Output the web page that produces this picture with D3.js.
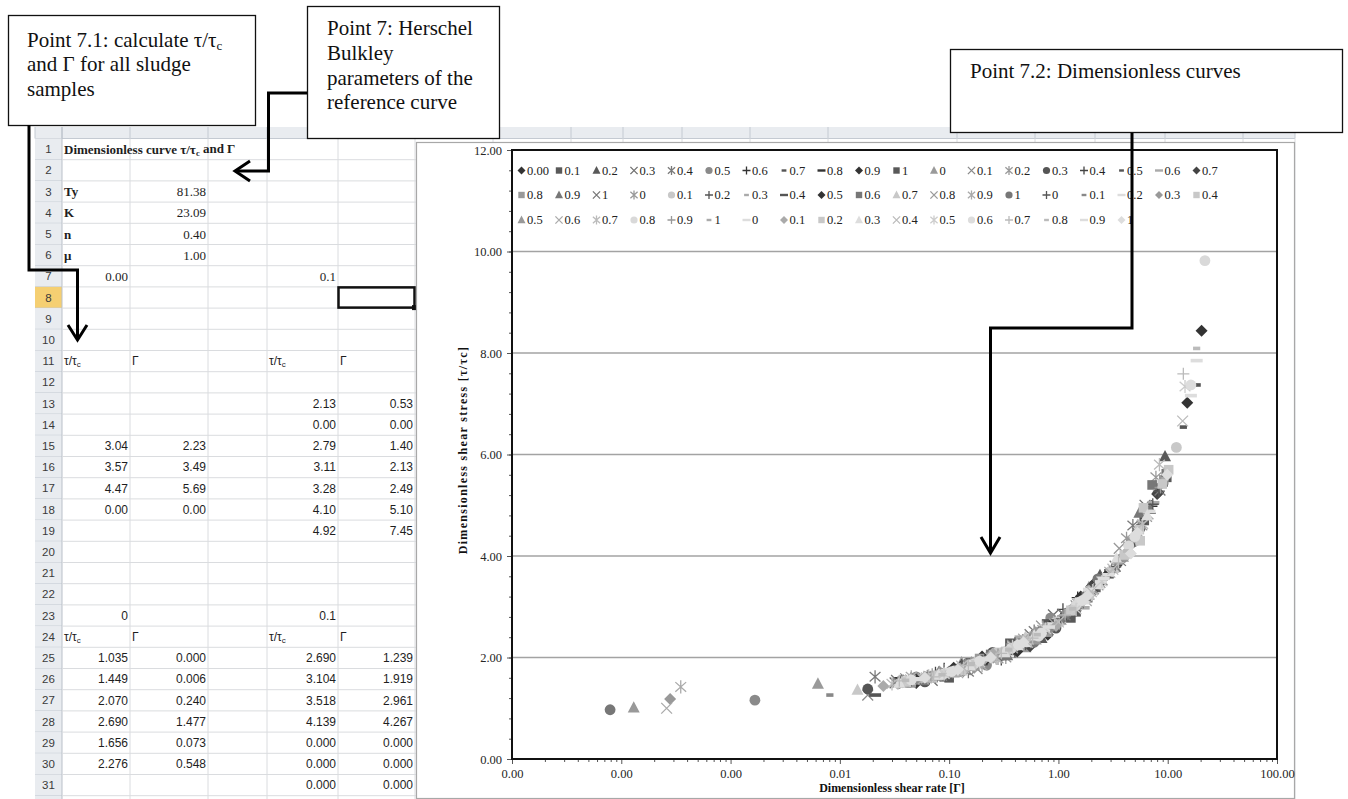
<!DOCTYPE html>
<html>
<head>
<meta charset="utf-8">
<script src="https://cdn.jsdelivr.net/npm/d3@7"></script>
<style>
  body { margin: 0; background: #fff; }
  svg { display: block; }
</style>
</head>
<body>
<svg id="sheet" width="1348" height="799"></svg>
<script>
// ---------- Worksheet contents ----------
const paramLabels = ["Ty", "K", "n", "μ"];
const paramValues = ["81.38", "23.09", "0.40", "1.00"];
// rows 13..19 : columns A, B, D, E
const blockOneRows = [
  ["", "", "2.13", "0.53"],
  ["", "", "0.00", "0.00"],
  ["3.04", "2.23", "2.79", "1.40"],
  ["3.57", "3.49", "3.11", "2.13"],
  ["4.47", "5.69", "3.28", "2.49"],
  ["0.00", "0.00", "4.10", "5.10"],
  ["", "", "4.92", "7.45"]
];
// rows 25..31 : columns A, B, D, E
const blockTwoRows = [
  ["1.035", "0.000", "2.690", "1.239"],
  ["1.449", "0.006", "3.104", "1.919"],
  ["2.070", "0.240", "3.518", "2.961"],
  ["2.690", "1.477", "4.139", "4.267"],
  ["1.656", "0.073", "0.000", "0.000"],
  ["2.276", "0.548", "0.000", "0.000"],
  ["", "", "0.000", "0.000"]
];

// ---------- Chart data: one series per sludge sample, points are [Γ, τ/τc] ----------
const seriesNames = [
  "0.00", "0.1", "0.2", "0.3", "0.4", "0.5", "0.6", "0.7", "0.8", "0.9", "1",
  "0", "0.1", "0.2", "0.3", "0.4", "0.5", "0.6", "0.7", "0.8", "0.9", "1",
  "0", "0.1", "0.2", "0.3", "0.4", "0.5", "0.6", "0.7", "0.8", "0.9", "1",
  "0", "0.1", "0.2", "0.3", "0.4", "0.5", "0.6", "0.7", "0.8", "0.9", "1",
  "0", "0.1", "0.2", "0.3", "0.4", "0.5", "0.6", "0.7", "0.8", "0.9", "1"
];
const seriesPoints = [
  [[0.06,1.60],[0.28,2.05],[1.1,2.78],[3.4,3.82],[8.2,5.25],[0.14,1.86],[0.55,2.28],[2.1,3.45]],
  [[0.05,1.55],[0.16,1.83],[0.62,2.45],[2.2,3.38],[6.1,4.70],[0.09,1.62],[0.38,2.26],[1.3,2.78]],
  [[0.09,1.66],[0.35,2.14],[1.35,2.97],[4.1,4.05],[9.45,5.96],[0.045,1.60],[0.7,2.38],[2.4,3.62]],
  [[0.032,1.50],[0.12,1.74],[0.48,2.30],[1.9,3.25],[5.3,4.45],[0.07,1.55],[0.9,2.84],[6.2,5.00]],
  [[0.021,1.62],[0.075,1.63],[0.30,2.06],[1.15,2.83],[3.7,3.90],[0.15,1.72],[0.6,2.52],[4.8,4.60]],
  [[0.00167,1.16],[0.11,1.72],[0.42,2.23],[1.6,3.10],[4.6,4.25],[0.05,1.62],[0.22,1.85],[0.85,2.78]],
  [[0.038,1.54],[0.19,1.90],[0.80,2.58],[2.7,3.58],[7.1,4.98],[0.09,1.78],[0.4,2.12],[1.5,3.18]],
  [[0.055,1.57],[0.25,2.00],[1.0,2.68],[3.1,3.72],[18.6,7.37],[0.12,1.66],[0.5,2.42],[1.9,3.12]],
  [[0.07,1.61],[0.33,2.12],[1.25,2.90],[3.9,3.97],[8.8,5.40],[0.035,1.58],[0.16,1.95],[0.62,2.36]],
  [[0.10,1.70],[0.44,2.25],[1.7,3.15],[5.0,4.35],[20.4,8.44],[0.05,1.50],[0.2,2.02],[0.8,2.45]],
  [[0.043,1.53],[0.20,1.94],[0.75,2.55],[2.9,3.65],[9.8,5.55],[0.1,1.60],[0.36,2.28],[1.45,2.90]],
  [[0.0063,1.48],[0.065,1.60],[0.26,2.02],[1.05,2.74],[3.3,3.78],[0.13,1.90],[0.5,2.20],[1.9,3.38]],
  [[0.018,1.26],[0.085,1.65],[0.37,2.17],[1.45,3.02],[4.4,4.18],[0.04,1.58],[0.18,1.78],[0.7,2.62]],
  [[0.048,1.56],[0.18,1.90],[0.68,2.50],[2.4,3.47],[6.6,4.82],[0.09,1.74],[0.33,2.00],[7.8,5.55]],
  [[0.018,1.38],[0.13,1.77],[0.52,2.33],[2.0,3.30],[5.6,4.55],[0.06,1.52],[0.25,2.10],[0.95,2.58]],
  [[0.036,1.52],[0.15,1.82],[0.58,2.42],[2.25,3.40],[6.3,4.75],[0.075,1.70],[0.3,1.96],[1.1,2.95]],
  [[0.08,1.64],[0.31,2.08],[1.2,2.87],[3.6,3.88],[13.9,6.54],[0.035,1.47],[0.15,1.90],[0.6,2.33]],
  [[0.052,1.58],[0.23,1.98],[0.90,2.65],[2.8,3.62],[7.4,5.05],[0.11,1.64],[0.45,2.40],[1.7,2.98]],
  [[0.062,1.60],[0.27,2.04],[1.1,2.80],[3.5,3.86],[8.0,5.22],[0.13,1.84],[0.55,2.22],[2.0,3.40]],
  [[0.095,1.69],[0.40,2.20],[1.55,3.08],[4.7,4.28],[9.2,5.50],[0.045,1.50],[0.19,1.98],[0.8,2.50]],
  [[0.04,1.53],[0.17,1.86],[0.66,2.48],[2.5,3.52],[6.9,4.92],[0.08,1.70],[0.34,2.04],[5.5,4.85]],
  [[0.07,1.62],[0.29,2.07],[1.1,2.85],[3.3,3.80],[8.5,5.30],[0.033,1.55],[0.14,1.76],[0.55,2.45]],
  [[0.034,1.50],[0.14,1.80],[0.55,2.38],[2.1,3.34],[5.8,4.60],[0.07,1.66],[0.28,1.98],[4.2,4.35]],
  [[0.058,1.59],[0.24,2.00],[0.95,2.70],[3.0,3.70],[12.0,6.14],[0.12,1.78],[0.5,2.35],[1.9,3.20]],
  [[0.045,1.55],[0.20,1.93],[0.78,2.56],[2.6,3.55],[7.3,5.02],[0.1,1.65],[0.4,2.28],[1.5,2.98]],
  [[0.088,1.67],[0.36,2.16],[1.4,3.00],[4.3,4.15],[9.0,5.45],[0.04,1.50],[0.17,1.95],[0.65,2.40]],
  [[0.021,1.26],[0.10,1.70],[0.40,2.22],[1.5,3.05],[4.5,4.22],[0.05,1.60],[0.2,1.88],[0.8,2.72]],
  [[0.05,1.56],[0.22,1.97],[0.85,2.63],[2.7,3.60],[15.1,7.02],[0.11,1.80],[0.42,2.12],[1.6,3.20]],
  [[0.12,1.75],[0.47,2.28],[1.8,3.20],[5.2,4.42],[9.7,5.62],[0.06,1.55],[0.24,2.06],[7.2,5.40]],
  [[0.0145,1.36],[0.06,1.60],[0.25,2.01],[1.0,2.72],[3.2,3.76],[0.13,1.74],[0.5,2.40],[1.9,3.30]],
  [[0.042,1.55],[0.18,1.88],[0.72,2.53],[2.3,3.43],[6.4,4.78],[0.09,1.70],[0.38,2.24],[3.6,4.15]],
  [[0.00035,1.42],[0.09,1.67],[0.38,2.18],[1.5,3.06],[4.8,4.30],[0.045,1.62],[0.2,1.84],[0.72,2.60]],
  [[0.000079,0.97],[0.075,1.63],[0.30,2.07],[1.2,2.88],[3.8,3.95],[0.15,1.88],[0.6,2.30],[2.3,3.55]],
  [[0.065,1.61],[0.27,2.05],[1.05,2.76],[3.3,3.79],[8.3,5.28],[0.035,1.52],[0.13,1.85],[0.5,2.26]],
  [[0.0081,1.26],[0.11,1.73],[0.45,2.27],[1.75,3.17],[5.4,4.50],[0.05,1.50],[0.22,2.00],[0.85,2.55]],
  [[0.047,1.57],[0.19,1.92],[0.74,2.54],[2.45,3.49],[6.8,4.88],[0.1,1.76],[0.42,2.18],[1.6,3.15]],
  [[0.00028,1.18],[0.085,1.66],[0.34,2.13],[1.3,2.94],[4.0,4.00],[0.04,1.55],[0.17,1.80],[0.62,2.50]],
  [[0.13,1.78],[0.50,2.32],[1.9,3.24],[5.5,4.52],[10.2,5.70],[0.07,1.60],[0.28,2.10],[6.0,4.95]],
  [[0.00013,1.01],[0.078,1.64],[0.32,2.10],[1.25,2.91],[3.9,3.98],[0.04,1.50],[0.16,1.90],[0.62,2.35]],
  [[0.00026,1.00],[0.058,1.58],[0.24,1.99],[0.92,2.66],[2.95,3.68],[0.12,1.70],[0.48,2.36],[1.8,3.12]],
  [[0.03,1.48],[0.135,1.79],[0.53,2.35],[2.05,3.32],[5.9,4.63],[0.065,1.64],[0.27,1.98],[8.4,5.80]],
  [[0.09,1.68],[0.37,2.18],[1.45,3.03],[4.4,4.20],[21.9,9.82],[0.04,1.54],[0.17,1.88],[0.66,2.42]],
  [[0.068,1.62],[0.28,2.06],[1.1,2.82],[3.45,3.84],[8.6,5.35],[0.035,1.50],[0.14,1.86],[0.56,2.30]],
  [[0.10,1.71],[0.41,2.22],[1.6,3.10],[4.9,4.33],[9.4,5.52],[0.05,1.58],[0.2,1.90],[0.78,2.62]],
  [[0.055,1.58],[0.23,1.98],[0.90,2.66],[2.85,3.63],[16.3,7.16],[0.12,1.80],[0.5,2.24],[1.9,3.34]],
  [[0.025,1.44],[0.115,1.73],[0.46,2.28],[1.8,3.20],[5.2,4.40],[0.06,1.62],[0.25,2.08],[0.95,2.62]],
  [[0.08,1.65],[0.33,2.12],[1.3,2.93],[4.0,4.02],[8.9,5.42],[0.04,1.52],[0.16,1.86],[5.6,4.30]],
  [[0.035,1.50],[0.155,1.84],[0.60,2.43],[2.35,3.44],[6.5,4.80],[0.08,1.66],[0.32,2.10],[3.4,3.95]],
  [[0.062,1.60],[0.26,2.03],[1.0,2.70],[3.15,3.74],[13.7,6.66],[0.13,1.83],[0.52,2.30],[2.0,3.30]],
  [[0.044,1.55],[0.19,1.91],[0.76,2.56],[2.5,3.50],[14.4,7.34],[0.09,1.68],[0.38,2.22],[1.45,2.95]],
  [[0.105,1.72],[0.43,2.25],[1.65,3.12],[5.0,4.38],[16.3,7.37],[0.045,1.56],[0.19,1.93],[0.7,2.48]],
  [[0.072,1.62],[0.30,2.08],[1.15,2.84],[3.55,3.87],[13.9,7.59],[0.035,1.54],[0.15,1.84],[0.58,2.38]],
  [[0.086,1.66],[0.35,2.15],[1.35,2.96],[4.2,4.10],[18.4,8.09],[0.04,1.55],[0.16,1.88],[0.64,2.45]],
  [[0.05,1.57],[0.21,1.96],[0.82,2.60],[2.6,3.56],[18.4,7.85],[0.11,1.72],[0.44,2.28],[1.7,3.08]],
  [[0.12,1.76],[0.48,2.30],[1.85,3.22],[5.3,4.46],[9.9,5.60],[0.06,1.60],[0.24,2.00],[4.6,4.05]]
];
const yTickValues = [0, 2, 4, 6, 8, 10, 12];
const xTickValues = [1e-5, 1e-4, 1e-3, 1e-2, 1e-1, 1, 10, 100];

// ---------- Styling ----------
const markerKinds = ["diamond", "square", "triangle", "x", "star", "circle", "plus", "dash", "longdash"];
const markerGrays = [
  "#333", "#595959", "#595959", "#6e6e6e", "#7a7a7a", "#8a8a8a", "#333", "#555", "#333", "#333", "#595959",
  "#9a9a9a", "#8a8a8a", "#9a9a9a", "#555", "#444", "#555", "#aaa", "#444", "#999", "#777", "#777",
  "#999", "#c8c8c8", "#555", "#aaa", "#555", "#333", "#777", "#c8c8c8", "#999", "#aaa", "#777",
  "#555", "#888", "#ddd", "#999", "#c8c8c8", "#999", "#aaa", "#bbb", "#d9d9d9", "#999", "#aaa",
  "#ddd", "#aaa", "#c8c8c8", "#ddd", "#bbb", "#ccc", "#ddd", "#bbb", "#bbb", "#ddd", "#ddd"
];
const SERIF = "'Liberation Serif', 'Times New Roman', serif";
const SANS = "'Liberation Sans', Arial, sans-serif";

const svg = d3.select("#sheet");

// ---------- Worksheet grid ----------
const colEdges = [35, 62, 130, 208, 267, 338, 415, 493, 571, 623, 682, 750, 828, 957, 1035, 1095, 1165, 1243, 1295];
const ROW_H = 21.2, ROW1 = 138.5;
const rowTop = r => ROW1 + (r - 1) * ROW_H;
const grid = svg.append("g");

// column-letter strip (mostly hidden by callouts)
grid.append("rect").attr("x", 35).attr("y", 127).attr("width", 1260).attr("height", ROW1 - 127)
  .attr("fill", "#e9ecf0");
colEdges.forEach(x => grid.append("line").attr("x1", x).attr("x2", x).attr("y1", 127).attr("y2", ROW1)
  .attr("stroke", "#c4cad2"));
grid.append("line").attr("x1", 35).attr("x2", 1295).attr("y1", ROW1).attr("y2", ROW1).attr("stroke", "#c4cad2");

// row headers
for (let r = 1; r <= 32; r++) {
  const y0 = rowTop(r);
  grid.append("rect").attr("x", 35).attr("y", y0).attr("width", 27).attr("height", ROW_H)
    .attr("fill", r === 8 ? "#f5cf72" : "#e9ecf0");
  grid.append("line").attr("x1", 35).attr("x2", 62).attr("y1", y0 + ROW_H).attr("y2", y0 + ROW_H)
    .attr("stroke", "#c4cad2");
  if (r <= 31) {
    grid.append("text").attr("x", 48.5).attr("y", y0 + ROW_H / 2).attr("dy", "0.36em")
      .attr("text-anchor", "middle").attr("font-family", SANS).attr("font-size", 11.5)
      .attr("fill", "#3a3a3a").text(r);
  }
}
grid.append("line").attr("x1", 62).attr("x2", 62).attr("y1", 127).attr("y2", 799).attr("stroke", "#b9c0c9");
// cell gridlines
for (let r = 1; r <= 32; r++) {
  const y = rowTop(r) + ROW_H;
  grid.append("line").attr("x1", 62).attr("x2", 1295).attr("y1", y).attr("y2", y).attr("stroke", "#dadcdf");
}
colEdges.slice(2).forEach(x => grid.append("line").attr("x1", x).attr("x2", x).attr("y1", ROW1).attr("y2", 799)
  .attr("stroke", "#dadcdf"));

// cell text helpers
const cellMid = r => rowTop(r) + ROW_H / 2;
function cellText(col, r, txt, opts = {}) {
  const left = colEdges[col], right = colEdges[col + 1];
  const t = grid.append("text")
    .attr("x", opts.align === "right" ? right - 2 : left + 2)
    .attr("y", cellMid(r)).attr("dy", "0.36em")
    .attr("text-anchor", opts.align === "right" ? "end" : "start")
    .attr("font-family", opts.font || SANS).attr("font-size", opts.size || 12)
    .attr("font-weight", opts.bold ? "bold" : "normal").attr("fill", "#1e1e1e");
  return t.text(txt);
}
function tauLabel(col, r) {
  const t = cellText(col, r, "τ/τ");
  t.append("tspan").attr("font-size", 8).attr("dy", "0.25em").text("c");
}

// row 1 title
{
  const t = cellText(1, 1, "Dimensionless curve τ/τ", { font: SERIF, bold: true, size: 13 });
  t.append("tspan").attr("font-size", 8.5).attr("dy", "0.25em").text("c");
  t.append("tspan").attr("dy", "-0.25em").text(" and Γ");
}
paramLabels.forEach((lab, i) => {
  cellText(1, 3 + i, lab, { font: SERIF, bold: true, size: 13 });
  cellText(2, 3 + i, paramValues[i], { font: SERIF, size: 13, align: "right" });
});
cellText(1, 7, "0.00", { font: SERIF, size: 13, align: "right" });
cellText(4, 7, "0.1", { font: SERIF, size: 13, align: "right" });

[11, 24].forEach(r => {
  tauLabel(1, r); cellText(2, r, "Γ");
  tauLabel(4, r); cellText(5, r, "Γ");
});
cellText(1, 23, "0", { align: "right" });
cellText(4, 23, "0.1", { align: "right" });
const dataCols = [1, 2, 4, 5];
blockOneRows.forEach((row, i) => row.forEach((v, j) => { if (v) cellText(dataCols[j], 13 + i, v, { align: "right" }); }));
blockTwoRows.forEach((row, i) => row.forEach((v, j) => { if (v) cellText(dataCols[j], 25 + i, v, { align: "right" }); }));

// active cell E8
grid.append("rect").attr("x", 338.5).attr("y", rowTop(8) + 0.5).attr("width", 76).attr("height", ROW_H - 1)
  .attr("fill", "none").attr("stroke", "#111").attr("stroke-width", 2.5);
grid.append("rect").attr("x", 412).attr("y", rowTop(8) + ROW_H - 3).attr("width", 5).attr("height", 5).attr("fill", "#111");

// ---------- Embedded chart ----------
const chart = svg.append("g");
chart.append("rect").attr("x", 416.5).attr("y", 142.5).attr("width", 878).attr("height", 656)
  .attr("fill", "#fff").attr("stroke", "#a8a8a8").attr("stroke-width", 1.2);

const x = d3.scaleLog().domain([1e-5, 100]).range([512, 1277]);
const y = d3.scaleLinear().domain([0, 12]).range([759, 150]);
const fmt = d3.format(".2f");

// horizontal gridlines
chart.append("g").selectAll("line").data(yTickValues.filter(v => v > 0 && v < 12)).join("line")
  .attr("x1", 512).attr("x2", 1277).attr("y1", d => y(d)).attr("y2", d => y(d))
  .attr("stroke", "#a3a3a3").attr("stroke-width", 1.4);

// y axis: major + minor ticks
const yMinor = d3.range(0, 12.0001, 0.4).map(v => +v.toFixed(1));
const yAxisMinor = chart.append("g").attr("transform", "translate(512,0)")
  .call(d3.axisLeft(y).tickValues(yMinor).tickSize(3).tickFormat(""));
const yAxis = chart.append("g").attr("transform", "translate(512,0)")
  .call(d3.axisLeft(y).tickValues(yTickValues).tickSize(5).tickPadding(5).tickFormat(fmt));

// x axis: decades + log minor ticks
const xMinor = [];
for (let e = -5; e < 2; e++) for (let k = 2; k <= 9; k++) xMinor.push(k * Math.pow(10, e));
const xAxisMinor = chart.append("g").attr("transform", "translate(0,759)")
  .call(d3.axisBottom(x).tickValues(xMinor).tickSize(3).tickFormat(""));
const xAxis = chart.append("g").attr("transform", "translate(0,759)")
  .call(d3.axisBottom(x).tickValues(xTickValues).tickSize(5).tickPadding(5).tickFormat(fmt));

[yAxisMinor, yAxis, xAxisMinor, xAxis].forEach(g => {
  g.select(".domain").remove();
  g.selectAll(".tick line").attr("stroke", "#555");
  g.selectAll("text").attr("font-family", SERIF).attr("font-size", 12.5).attr("fill", "#262626");
});

// plot area frame
chart.append("rect").attr("x", 512).attr("y", 150).attr("width", 765).attr("height", 609)
  .attr("fill", "none").attr("stroke", "#111").attr("stroke-width", 2);

// axis titles
chart.append("text").attr("transform", "translate(467,450) rotate(-90)")
  .attr("text-anchor", "middle").attr("font-family", SERIF).attr("font-weight", "bold")
  .attr("font-size", 12).attr("letter-spacing", 1.3).attr("fill", "#111")
  .text("Dimensionless shear stress [τ/τc]");
chart.append("text").attr("x", 892).attr("y", 792)
  .attr("text-anchor", "middle").attr("font-family", SERIF).attr("font-weight", "bold")
  .attr("font-size", 12).attr("fill", "#111").text("Dimensionless shear rate [Γ]");

// marker shapes
function drawMarker(g, kind, s, color) {
  switch (kind) {
    case "diamond":
      g.append("path").attr("d", `M0,${-5 * s}L${5 * s},0L0,${5 * s}L${-5 * s},0Z`).attr("fill", color); break;
    case "square":
      g.append("rect").attr("x", -4 * s).attr("y", -4 * s).attr("width", 8 * s).attr("height", 8 * s).attr("fill", color); break;
    case "triangle":
      g.append("path").attr("d", `M0,${-5.5 * s}L${5 * s},${4 * s}L${-5 * s},${4 * s}Z`).attr("fill", color); break;
    case "circle":
      g.append("circle").attr("r", 4.5 * s).attr("fill", color); break;
    case "x":
      g.append("path").attr("d", `M${-4.5 * s},${-4.5 * s}L${4.5 * s},${4.5 * s}M${-4.5 * s},${4.5 * s}L${4.5 * s},${-4.5 * s}`)
        .attr("stroke", color).attr("stroke-width", 1.3).attr("fill", "none"); break;
    case "star":
      g.append("path").attr("d", `M${-4.5 * s},${-4 * s}L${4.5 * s},${4 * s}M${-4.5 * s},${4 * s}L${4.5 * s},${-4 * s}M0,${-5.5 * s}L0,${5.5 * s}`)
        .attr("stroke", color).attr("stroke-width", 1.3).attr("fill", "none"); break;
    case "plus":
      g.append("path").attr("d", `M${-5 * s},0L${5 * s},0M0,${-5 * s}L0,${5 * s}`)
        .attr("stroke", color).attr("stroke-width", 1.3).attr("fill", "none"); break;
    case "dash":
      g.append("rect").attr("x", -3 * s).attr("y", -1.5 * s).attr("width", 6 * s).attr("height", 3 * s).attr("fill", color); break;
    case "longdash":
      g.append("rect").attr("x", -5 * s).attr("y", -1.5 * s).attr("width", 10 * s).attr("height", 3 * s).attr("fill", color); break;
  }
}

// data points
const pts = chart.append("g");
seriesPoints.forEach((points, i) => {
  const kind = markerKinds[i % markerKinds.length];
  points.forEach(([g, t]) => {
    const m = pts.append("g").attr("transform", `translate(${x(g)},${y(t)})`);
    drawMarker(m, kind, 1.2, markerGrays[i]);
  });
});

// legend (19 / 19 / 17 entries per row)
const legendRowStart = [0, 19, 38];
const legendRowY = [170.5, 195, 220];
const legend = chart.append("g");
seriesNames.forEach((name, i) => {
  const row = i < 19 ? 0 : i < 38 ? 1 : 2;
  const col = i - legendRowStart[row];
  const lx = 521.5 + col * 37.5, ly = legendRowY[row];
  const m = legend.append("g").attr("transform", `translate(${lx},${ly})`);
  drawMarker(m, markerKinds[i % markerKinds.length], 0.8, markerGrays[i]);
  legend.append("text").attr("x", lx + 5.5).attr("y", ly).attr("dy", "0.35em")
    .attr("font-family", SERIF).attr("font-size", 12.5).attr("fill", "#222").text(name);
});

// ---------- Callouts ----------
const notes = svg.append("g");
function callout(x0, y0, w, h, lines, tx, firstBase, step) {
  notes.append("rect").attr("x", x0).attr("y", y0).attr("width", w).attr("height", h)
    .attr("fill", "#fff").attr("stroke", "#111").attr("stroke-width", 1.3);
  lines.forEach((ln, k) => {
    const t = notes.append("text").attr("x", tx).attr("y", firstBase + k * step)
      .attr("font-family", SERIF).attr("font-size", 21).attr("fill", "#111");
    ln.forEach(part => {
      if (part.sub) t.append("tspan").attr("font-size", 13).attr("dy", 3).text(part.sub);
      else t.append("tspan").text(part.t);
    });
  });
}
callout(8.5, 15.5, 247, 110, [
  [{ t: "Point 7.1: calculate τ/τ" }, { sub: "c" }],
  [{ t: "and Γ for all sludge" }],
  [{ t: "samples" }]
], 27, 47, 24.3);
callout(307.5, 6.5, 192, 132, [
  [{ t: "Point 7: Herschel" }],
  [{ t: "Bulkley" }],
  [{ t: "parameters of the" }],
  [{ t: "reference curve" }]
], 327, 35, 24.8);
callout(950.5, 49.5, 392, 83, [
  [{ t: "Point 7.2: Dimensionless curves" }]
], 970, 78, 24);

// connector arrows
const arrowStyle = p => p.attr("fill", "none").attr("stroke", "#000").attr("stroke-width", 3)
  .attr("stroke-linejoin", "miter");
notes.append("path").attr("d", "M29,125V270H77.5V339").call(arrowStyle);
notes.append("path").attr("d", "M68,325L77.5,340L87,325").call(arrowStyle);
notes.append("path").attr("d", "M307,93H268.5V171H236").call(arrowStyle);
notes.append("path").attr("d", "M250,161L235,171L250,181").call(arrowStyle);
notes.append("path").attr("d", "M1132,133V328H990.5V552").call(arrowStyle);
notes.append("path").attr("d", "M981,537L990.5,553L1000,537").call(arrowStyle);
</script>
</body>
</html>
